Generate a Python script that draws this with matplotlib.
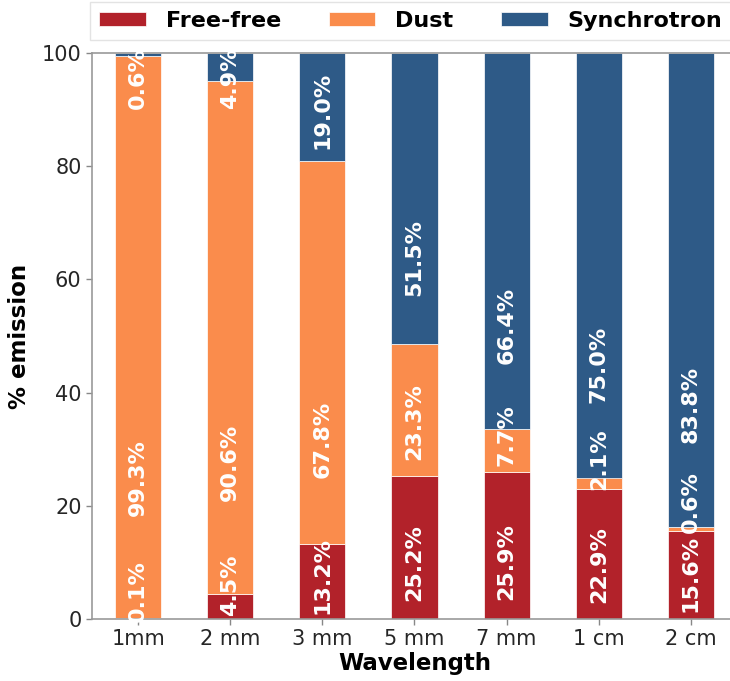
import numpy as np
import matplotlib
matplotlib.use("Agg")
import matplotlib.pyplot as plt

wavelengths = ["1mm", "2 mm", "3 mm", "5 mm", "7 mm", "1 cm", "2 cm"]
free_free = [0.1, 4.5, 13.2, 25.2, 25.9, 22.9, 15.6]
dust = [99.3, 90.6, 67.8, 23.3, 7.7, 2.1, 0.6]
synchrotron = [0.6, 4.9, 19.0, 51.5, 66.4, 75.0, 83.8]

series_names = ["Free-free", "Dust", "Synchrotron"]
colors = ["#b2222a", "#fa8c4c", "#2e5a87"]

fig = plt.figure(figsize=(7.30, 6.81), dpi=100)
# axes run slightly past the right edge, as in the cropped original
ax = fig.add_axes([92 / 730, 1 - 619 / 681, 645 / 730, 566 / 681])

x = np.arange(len(wavelengths))
bottom = np.zeros(len(wavelengths))
for name, vals, col in zip(series_names, [free_free, dust, synchrotron], colors):
    vals = np.array(vals)
    ax.bar(x, vals, width=0.5, bottom=bottom, color=col, label=name,
           edgecolor="white", linewidth=0.5)
    for xi, b, v in zip(x, bottom, vals):
        # labels sit in the lower part of each segment, kept below the top
        ypos = min(b + 0.2 * v + 5, 95.5)
        ax.text(xi, ypos, f"{v:.1f}%", rotation=90, ha="center",
                va="center", color="white", fontsize=16, fontweight="bold")
    bottom += vals

ax.set_xlim(-0.5, len(wavelengths) - 0.5)
ax.set_ylim(0, 100)
ax.set_xticks(x)
ax.set_xticklabels(wavelengths)
ax.set_yticks([0, 20, 40, 60, 80, 100])
ax.tick_params(axis="both", labelsize=15, colors="#888888", labelcolor="#262626",
               length=4, width=1)
for side in ["left", "bottom", "top", "right"]:
    ax.spines[side].set_color("#999999")
    ax.spines[side].set_linewidth(1.2)

ax.set_xlabel("Wavelength", fontsize=16.5, fontweight="bold", labelpad=2)
ax.set_ylabel("% emission", fontsize=16.5, fontweight="bold", labelpad=8)

leg = fig.legend(loc="upper left", bbox_to_anchor=(90 / 730, 1 - 2 / 681),
                 ncol=3, prop={"weight": "bold", "size": 16},
                 frameon=True, fancybox=False, edgecolor="#dddddd",
                 handlelength=2.1, handleheight=0.63, handletextpad=0.9,
                 columnspacing=2.15, borderpad=0.4, borderaxespad=0)

fig.savefig("out.png", dpi=100)
